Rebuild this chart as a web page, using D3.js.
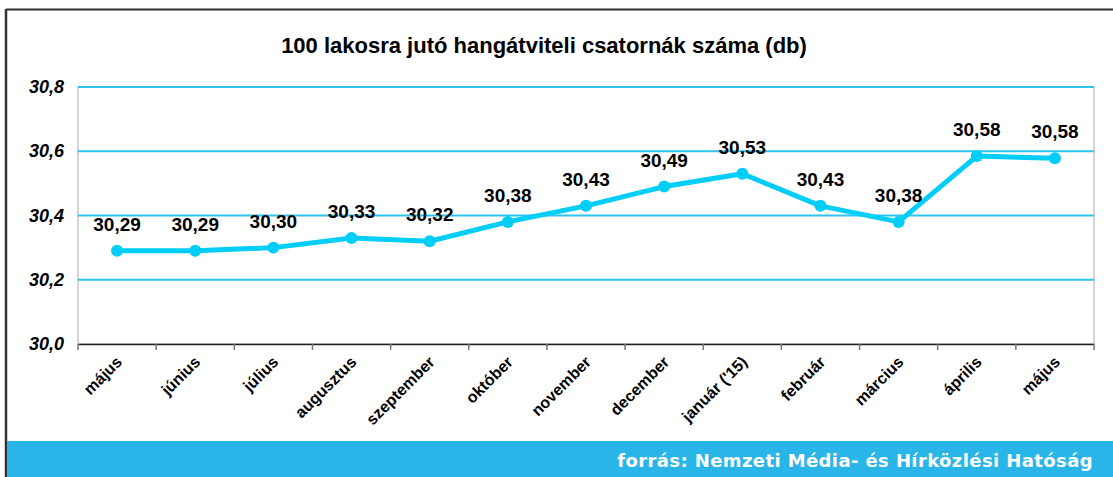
<!DOCTYPE html>
<html>
<head>
<meta charset="utf-8">
<script src="https://cdn.jsdelivr.net/npm/d3@7"></script>
<style>
  body { margin: 0; background: #fff; overflow: hidden; }
  svg { display: block; overflow: visible; }
  svg text { font-family: "Liberation Sans", Arial, sans-serif; }
</style>
</head>
<body>
<div id="chart"></div>
<script>
const months = ["május", "június", "július", "augusztus", "szeptember", "október", "november",
  "december", "január ('15)", "február", "március", "április", "május"];
const values = [30.29, 30.29, 30.30, 30.33, 30.32, 30.38, 30.43, 30.49, 30.53, 30.43, 30.38, 30.585, 30.578];
const labels = ["30,29", "30,29", "30,30", "30,33", "30,32", "30,38", "30,43", "30,49", "30,53", "30,43", "30,38", "30,58", "30,58"];
const yTicks = [30.0, 30.2, 30.4, 30.6, 30.8];

const width = 1113, height = 477;
const margin = { left: 78, right: 19, top: 87, bottom: 133 };
const innerWidth = width - margin.left - margin.right;
const innerHeight = height - margin.top - margin.bottom;

const svg = d3.select("#chart").append("svg")
  .attr("width", width).attr("height", height);

// frame
svg.append("line").attr("x1", 6).attr("x2", width).attr("y1", 9.5).attr("y2", 9.5)
  .attr("stroke", "#333").attr("stroke-width", 2);
svg.append("line").attr("x1", 6).attr("x2", 6).attr("y1", 9).attr("y2", height)
  .attr("stroke", "#333").attr("stroke-width", 2.5);

// footer band
svg.append("rect").attr("x", 7).attr("y", 441).attr("width", width - 7).attr("height", 36)
  .attr("fill", "#29b5e8");
svg.append("text").attr("x", 1093).attr("y", 467).attr("text-anchor", "end")
  .attr("fill", "#fff").attr("font-weight", "bold").attr("font-size", 18)
  .attr("letter-spacing", 0.4)
  .style("font-family", "'DejaVu Sans', sans-serif")
  .text("forrás: Nemzeti Média- és Hírközlési Hatóság");

// title
svg.append("text").attr("x", 544).attr("y", 53).attr("text-anchor", "middle")
  .attr("font-weight", "bold").attr("font-size", 22).attr("fill", "#000")
  .text("100 lakosra jutó hangátviteli csatornák száma (db)");

const g = svg.append("g").attr("transform", `translate(${margin.left},${margin.top})`);

const x = d3.scaleBand().domain(d3.range(months.length)).range([0, innerWidth]);
const y = d3.scaleLinear().domain([30.0, 30.8]).range([innerHeight, 0]);

// plot border
g.append("rect").attr("width", innerWidth).attr("height", innerHeight)
  .attr("fill", "none").attr("stroke", "#aaa").attr("stroke-width", 1);

// grid
g.selectAll(".grid").data(yTicks.slice(1)).join("line")
  .attr("class", "grid")
  .attr("x1", 0).attr("x2", innerWidth)
  .attr("y1", d => y(d)).attr("y2", d => y(d))
  .attr("stroke", "#2ec4ea").attr("stroke-width", 2);

// y labels
g.selectAll(".ylab").data(yTicks).join("text")
  .attr("class", "ylab")
  .attr("x", -14).attr("y", d => y(d) + 6)
  .attr("text-anchor", "end").attr("font-weight", "bold").attr("font-style", "italic")
  .attr("font-size", 18).attr("fill", "#000")
  .text(d => d3.format(".1f")(d).replace(".", ","));

// x axis
const xAxis = d3.axisBottom(x).tickSize(0).tickFormat("");
const xg = g.append("g").attr("transform", `translate(0,${innerHeight})`).call(xAxis);
xg.select(".domain").attr("stroke", "#222").attr("stroke-width", 1.5);
const bounds = d3.range(months.length + 1).map(i => i * x.step());
xg.selectAll(".btick").data(bounds).join("line")
  .attr("class", "btick")
  .attr("x1", d => d).attr("x2", d => d).attr("y1", 0).attr("y2", 6)
  .attr("stroke", "#777").attr("stroke-width", 1.5);

g.selectAll(".xlab").data(months).join("text")
  .attr("class", "xlab")
  .attr("text-anchor", "end")
  .attr("font-weight", "bold").attr("font-size", 16).attr("fill", "#000")
  .attr("transform", (d, i) => `translate(${x(i) + x.bandwidth() / 2 + 6},${innerHeight + 19}) rotate(-45)`)
  .text(d => d);

// line
const cx = i => x(i) + x.bandwidth() / 2;
const line = d3.line().x((d, i) => cx(i)).y(d => y(d));
g.append("path").datum(values)
  .attr("d", line).attr("fill", "none")
  .attr("stroke", "#00cdf8").attr("stroke-width", 5).attr("stroke-linejoin", "round");

g.selectAll(".pt").data(values).join("circle")
  .attr("class", "pt")
  .attr("cx", (d, i) => cx(i)).attr("cy", d => y(d)).attr("r", 6)
  .attr("fill", "#00cdf8");

g.selectAll(".vlab").data(values).join("text")
  .attr("class", "vlab")
  .attr("x", (d, i) => cx(i)).attr("y", d => y(d) - 20)
  .attr("text-anchor", "middle").attr("font-weight", "bold").attr("font-size", 19)
  .attr("fill", "#000")
  .text((d, i) => labels[i]);
</script>
</body>
</html>
